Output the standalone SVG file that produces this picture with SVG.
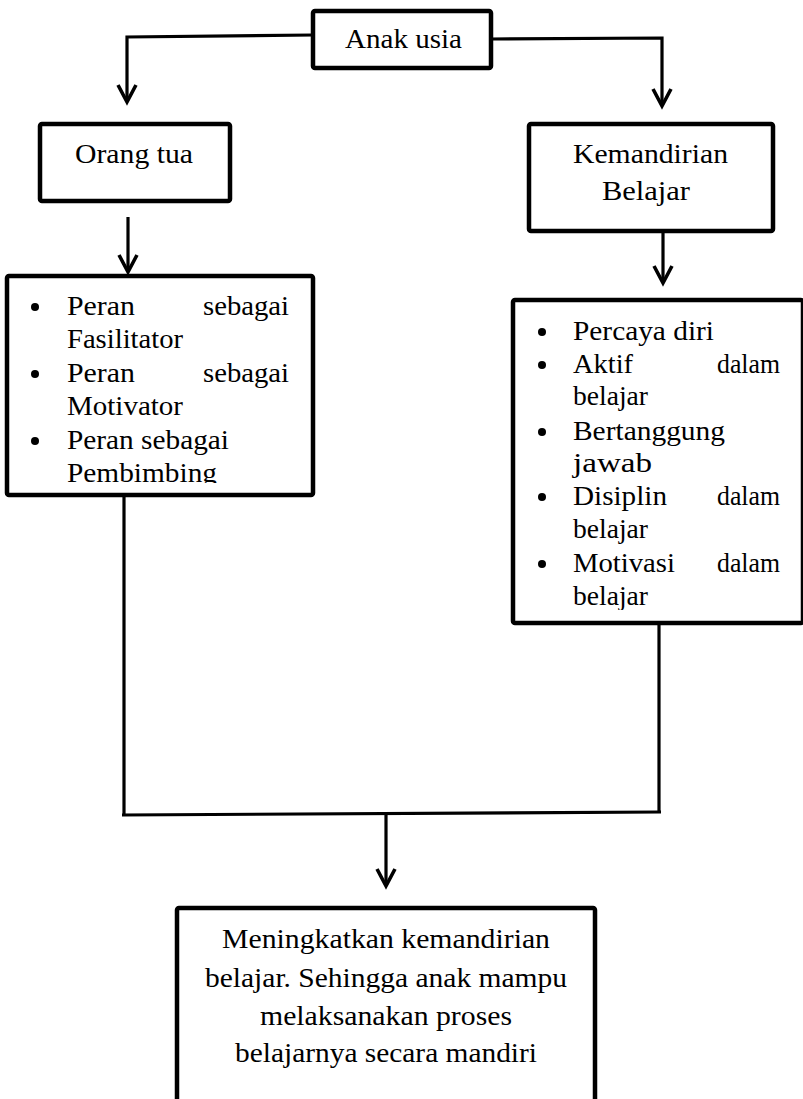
<svg xmlns="http://www.w3.org/2000/svg" width="803" height="1099" viewBox="0 0 803 1099">
<style>
.box{fill:#fff;stroke:#000;stroke-width:4.5;}
.t{font-family:"Liberation Serif","Times New Roman",serif;font-size:27px;fill:#000;}
.c{text-anchor:middle;}
.con{fill:none;stroke:#000;stroke-width:3.2;}
.head{fill:none;stroke:#000;stroke-width:3.6;stroke-linejoin:miter;}
.dot{fill:#000;}
</style>
<defs>
<clipPath id="clipL"><rect x="9" y="278" width="302" height="205"/></clipPath>
<clipPath id="clipR"><rect x="515" y="302" width="284" height="308"/></clipPath>
</defs>
<rect width="803" height="1099" fill="#fff"/>
<g id="connectors">
<path class="con" d="M313,35 L127,37 V101"/>
<polyline class="head" points="118,85 127,102 136,85"/>
<path class="con" d="M491,39 L662,38 V105"/>
<polyline class="head" points="653,89 662,106 671,89"/>
<path class="con" d="M128,217 V271"/>
<polyline class="head" points="119,255 128,272 137,255"/>
<path class="con" d="M663,231 V281"/>
<polyline class="head" points="654,266 663,283 672,266"/>
<path class="con" d="M124,495 V814"/>
<path class="con" d="M659,623 V812"/>
<path class="con" d="M122,815 L661,812"/>
<path class="con" d="M386,813 V885"/>
<polyline class="head" points="377,869 386,886 395,869"/>
</g>
<g id="anak-usia">
<rect class="box" x="313" y="11" width="178" height="57" rx="2"/>
<text class="t" x="345" y="48" textLength="117" lengthAdjust="spacingAndGlyphs">Anak usia</text>
</g>
<g id="orang-tua">
<rect class="box" x="40" y="124" width="190" height="77" rx="2"/>
<text class="t" x="75" y="163" textLength="118" lengthAdjust="spacingAndGlyphs">Orang tua</text>
</g>
<g id="kemandirian-belajar">
<rect class="box" x="529" y="124" width="244" height="107" rx="2"/>
<text class="t" x="573" y="163" textLength="155" lengthAdjust="spacingAndGlyphs">Kemandirian</text>
<text class="t" x="602" y="200" textLength="88" lengthAdjust="spacingAndGlyphs">Belajar</text>
</g>
<g id="peran-list">
<rect class="box" x="7" y="276" width="306" height="219" rx="2"/>
<g clip-path="url(#clipL)">
<circle class="dot" cx="35" cy="307" r="4"/>
<circle class="dot" cx="35" cy="374" r="4"/>
<circle class="dot" cx="35" cy="441" r="4"/>
<text class="t" x="67" y="315" textLength="68" lengthAdjust="spacingAndGlyphs">Peran</text>
<text class="t" x="203" y="315" textLength="86" lengthAdjust="spacingAndGlyphs">sebagai</text>
<text class="t" x="67" y="348" textLength="116" lengthAdjust="spacingAndGlyphs">Fasilitator</text>
<text class="t" x="67" y="382" textLength="68" lengthAdjust="spacingAndGlyphs">Peran</text>
<text class="t" x="203" y="382" textLength="86" lengthAdjust="spacingAndGlyphs">sebagai</text>
<text class="t" x="67" y="415" textLength="116" lengthAdjust="spacingAndGlyphs">Motivator</text>
<text class="t" x="67" y="449" textLength="162" lengthAdjust="spacingAndGlyphs">Peran sebagai</text>
<text class="t" x="67" y="482" textLength="150" lengthAdjust="spacingAndGlyphs">Pembimbing</text>
</g>
</g>
<g id="kemandirian-list">
<rect class="box" x="513" y="300" width="290" height="323" rx="2"/>
<g clip-path="url(#clipR)">
<circle class="dot" cx="542" cy="332" r="4"/>
<circle class="dot" cx="542" cy="365" r="4"/>
<circle class="dot" cx="542" cy="432" r="4"/>
<circle class="dot" cx="542" cy="497" r="4"/>
<circle class="dot" cx="542" cy="564" r="4"/>
<text class="t" x="573" y="340" textLength="141" lengthAdjust="spacingAndGlyphs">Percaya diri</text>
<text class="t" x="573" y="373" textLength="60" lengthAdjust="spacingAndGlyphs">Aktif</text>
<text class="t" x="717" y="373" textLength="63" lengthAdjust="spacingAndGlyphs">dalam</text>
<text class="t" x="573" y="405" textLength="75" lengthAdjust="spacingAndGlyphs">belajar</text>
<text class="t" x="573" y="440" textLength="152" lengthAdjust="spacingAndGlyphs">Bertanggung</text>
<text class="t" x="573" y="472" textLength="79" lengthAdjust="spacingAndGlyphs">jawab</text>
<text class="t" x="573" y="505" textLength="94" lengthAdjust="spacingAndGlyphs">Disiplin</text>
<text class="t" x="717" y="505" textLength="63" lengthAdjust="spacingAndGlyphs">dalam</text>
<text class="t" x="573" y="538" textLength="75" lengthAdjust="spacingAndGlyphs">belajar</text>
<text class="t" x="573" y="572" textLength="102" lengthAdjust="spacingAndGlyphs">Motivasi</text>
<text class="t" x="717" y="572" textLength="63" lengthAdjust="spacingAndGlyphs">dalam</text>
<text class="t" x="573" y="605" textLength="75" lengthAdjust="spacingAndGlyphs">belajar</text>
</g>
</g>
<g id="hasil">
<rect class="box" x="177" y="908" width="418" height="200" rx="2"/>
<text class="t c" x="386" y="948" textLength="328" lengthAdjust="spacingAndGlyphs">Meningkatkan kemandirian</text>
<text class="t c" x="386" y="987" textLength="362" lengthAdjust="spacingAndGlyphs">belajar. Sehingga anak mampu</text>
<text class="t c" x="386" y="1025" textLength="252" lengthAdjust="spacingAndGlyphs">melaksanakan proses</text>
<text class="t c" x="386" y="1062" textLength="302" lengthAdjust="spacingAndGlyphs">belajarnya secara mandiri</text>
</g>
</svg>
